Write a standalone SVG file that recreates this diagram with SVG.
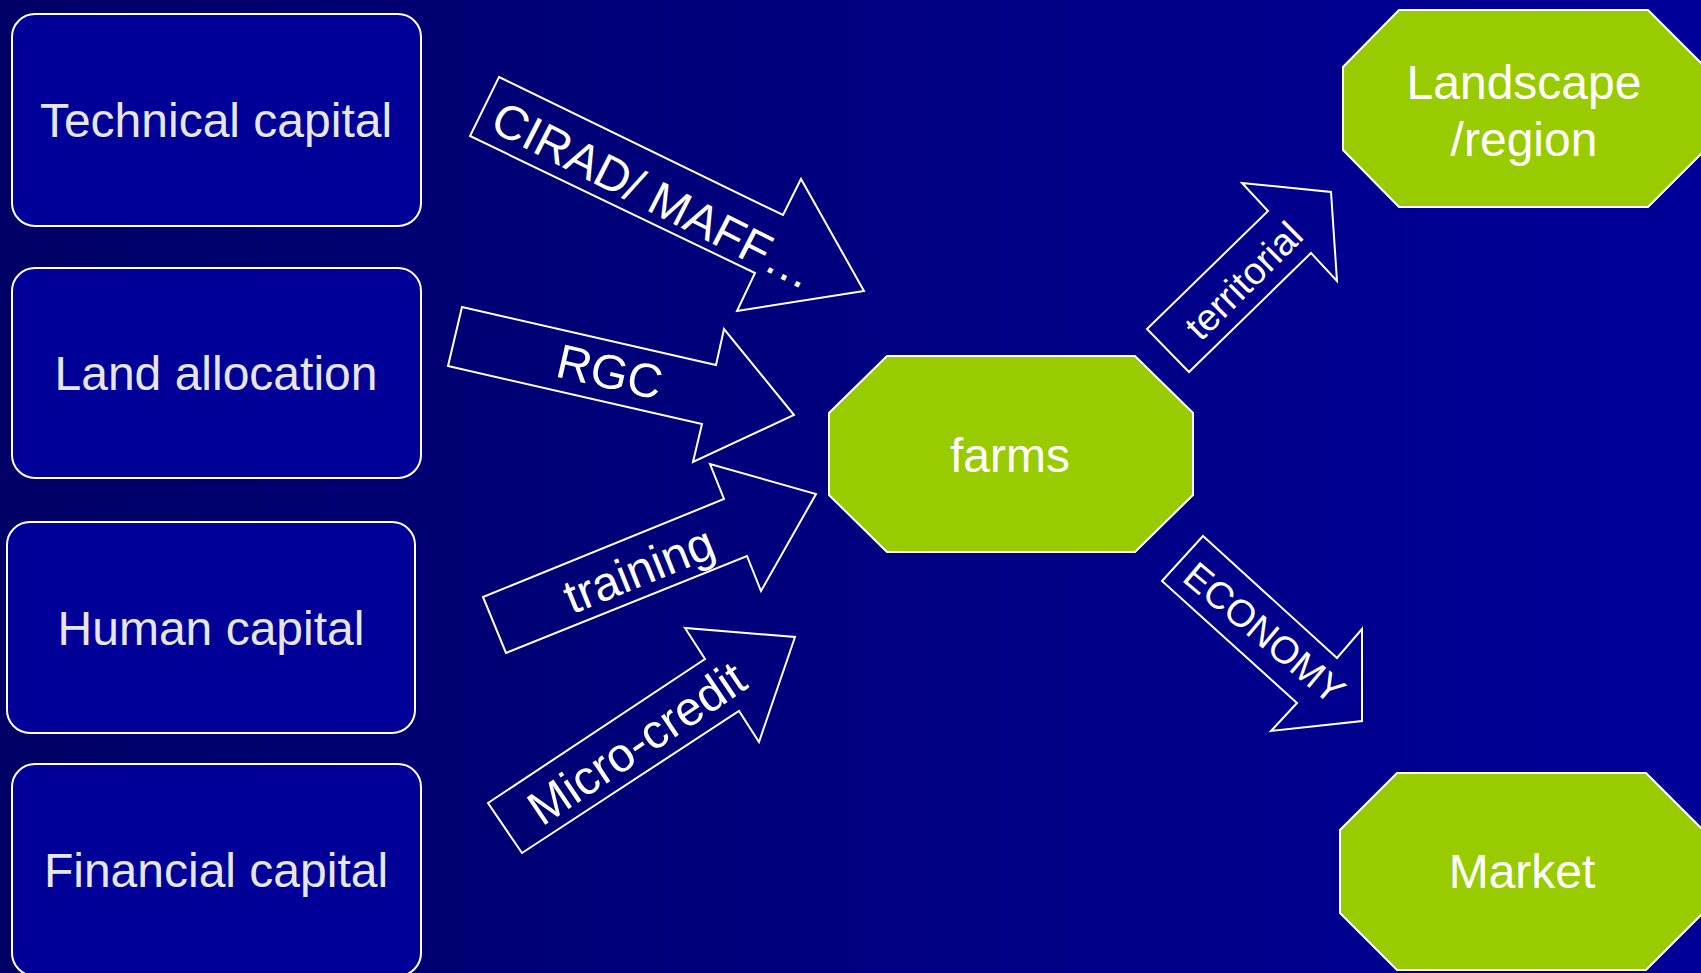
<svg xmlns="http://www.w3.org/2000/svg" width="1701" height="973" viewBox="0 0 1701 973">
<defs>
<linearGradient id="bg" x1="0" y1="0" x2="1" y2="0">
<stop offset="0" stop-color="#000066"/>
<stop offset="1" stop-color="#000099"/>
</linearGradient>
<style>
.box{fill:#000099;stroke:#ffffff;stroke-width:2}
.boxt{fill:#e6e6e6;font-family:"Liberation Sans",Arial,sans-serif;font-size:48px;text-anchor:middle}
.oct{fill:#99cc00;stroke:#ffffff;stroke-width:2}
.octt{fill:#ffffff;font-family:"Liberation Sans",Arial,sans-serif;font-size:48px;text-anchor:middle}
.arr{fill:none;stroke:#ffffff;stroke-width:2;stroke-linejoin:miter}
.arrt{fill:#ffffff;font-family:"Liberation Sans",Arial,sans-serif;font-size:48px;text-anchor:middle}
.arrs{fill:#ffffff;font-family:"Liberation Sans",Arial,sans-serif;font-size:38px;text-anchor:middle}
</style>
</defs>
<rect width="1701" height="973" fill="url(#bg)"/>

<g id="technical">
<rect class="box" x="12" y="14" width="409" height="212" rx="23"/>
<text class="boxt" x="216" y="137">Technical capital</text>
</g>
<g id="land">
<rect class="box" x="12" y="268" width="409" height="210" rx="23"/>
<text class="boxt" x="216" y="390">Land allocation</text>
</g>
<g id="human">
<rect class="box" x="7" y="522" width="408" height="211" rx="23"/>
<text class="boxt" x="211" y="645">Human capital</text>
</g>
<g id="financial">
<rect class="box" x="12" y="764" width="409" height="212" rx="23"/>
<text class="boxt" x="216" y="887">Financial capital</text>
</g>

<g id="farms">
<polygon class="oct" points="887,356 1135,356 1193,413 1193,495 1135,552 887,552 829,495 829,413"/>
<text class="octt" x="1010" y="472">farms</text>
</g>
<g id="landscape">
<polygon class="oct" points="1399,10 1648,10 1705,67 1705,150 1648,207 1399,207 1343,150 1343,67"/>
<text class="octt" x="1524" y="99">Landscape</text>
<text class="octt" x="1524" y="156">/region</text>
</g>
<g id="market">
<polygon class="oct" points="1397,773 1646,773 1703,830 1703,913 1646,970 1397,970 1340,913 1340,830"/>
<text class="octt" x="1522" y="888">Market</text>
</g>

<g id="connectors">
<g id="arrow-cirad">
<polygon class="arr" points="499,77 783,215 801,179 864,291 737,311 755,273 470,136"/>
<text class="arrt" transform="translate(646,210) rotate(27)">CIRAD/ MAFF…</text>
</g>
<g id="arrow-rgc">
<polygon class="arr" points="462,307 716,365 724,329 794,415 693,462 702,424 448,366"/>
<text class="arrt" transform="translate(606,388) rotate(13)">RGC</text>
</g>
<g id="arrow-training">
<polygon class="arr" points="483,597 724,499 710,464 816,494 761,591 747,556 506,653"/>
<text class="arrt" transform="translate(645,585) rotate(-22)">training</text>
</g>
<g id="arrow-micro">
<polygon class="arr" points="488,803 705,659 685,628 795,637 759,742 739,711 522,853"/>
<text class="arrt" transform="translate(646,757) rotate(-34)">Micro-credit</text>
</g>
<g id="arrow-territorial">
<polygon class="arr" points="1147,329 1268,211 1242,183 1331,192 1337,281 1311,253 1189,372"/>
<text class="arrs" transform="translate(1253,290) rotate(-45)">territorial</text>
</g>
<g id="arrow-economy">
<polygon class="arr" points="1203,536 1337,658 1362,629 1362,721 1271,731 1297,703 1162,581"/>
<text class="arrs" transform="translate(1256,643) rotate(40)">ECONOMY</text>
</g>
</g>
</svg>
